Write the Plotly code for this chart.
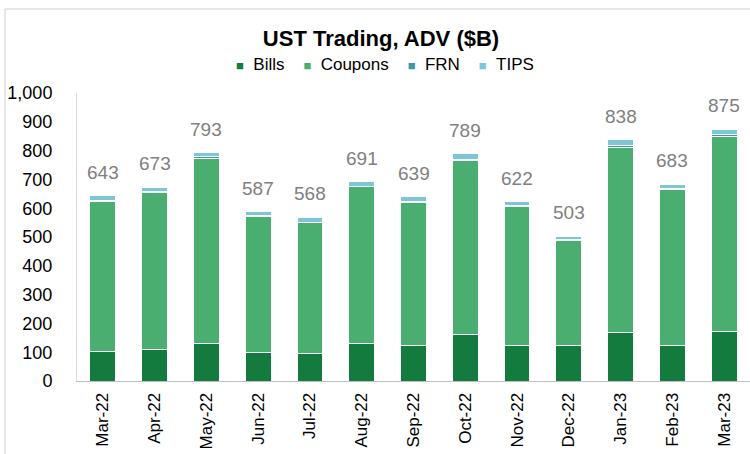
import plotly.graph_objects as go

months = ["Mar-22", "Apr-22", "May-22", "Jun-22", "Jul-22", "Aug-22", "Sep-22",
          "Oct-22", "Nov-22", "Dec-22", "Jan-23", "Feb-23", "Mar-23"]
bills = [104, 108, 131, 98, 94, 129, 123, 160, 125, 125, 167, 125, 171]
coupons = [520, 547, 643, 473, 455, 545, 498, 606, 482, 362, 643, 540, 679]
frn = [4, 3, 4, 3, 3, 3, 3, 4, 4, 4, 6, 5, 5]
tips = [15, 15, 15, 13, 16, 14, 15, 19, 11, 12, 22, 13, 20]
totals = [643, 673, 793, 587, 568, 691, 639, 789, 622, 503, 838, 683, 875]

W, H = 750, 454
ml, mr, mt, mb = 77, 0, 93, 73
pw, ph = W - ml - mr, H - mt - mb

font = "Liberation Sans, Arial, sans-serif"
series = [("Bills", bills, "#137B3E"), ("Coupons", coupons, "#4BAE71"),
          ("FRN", frn, "#3A97A9"), ("TIPS", tips, "#7EC6D3")]

fig = go.Figure()
for name, vals, col in series:
    fig.add_trace(go.Bar(x=months, y=vals, name=name, showlegend=False,
                         marker=dict(color=col, line=dict(color="white", width=1)),
                         hoverinfo="x+y+name"))

for m, t in zip(months, totals):
    fig.add_annotation(x=m, y=t, text=str(t), showarrow=False, yanchor="bottom",
                       yshift=11, font=dict(family=font, size=19, color="#808080"))


def px2x(px):
    return (px - ml) / pw


def py2y(py):
    return (H - mb - py) / ph


# legend drawn as text
parts = []
for name, _, col in series:
    parts.append(f"<span style='color:{col};font-size:13px'>■</span>&nbsp;&nbsp;{name}")
legend_text = "&nbsp;&nbsp;&nbsp;&nbsp;".join(parts)
fig.add_annotation(xref="paper", yref="paper", x=px2x(385), y=py2y(65),
                   xanchor="center", yanchor="middle", showarrow=False,
                   text=legend_text, font=dict(family=font, size=17, color="black"))

fig.add_shape(type="rect", xref="paper", yref="paper",
              x0=px2x(5), x1=px2x(760), y0=py2y(470), y1=py2y(9),
              line=dict(color="#d0d0d0", width=1), fillcolor="rgba(0,0,0,0)", layer="below")

fig.update_layout(
    width=W, height=H,
    margin=dict(l=ml, r=mr, t=mt, b=mb),
    barmode="stack", bargap=0.5,
    plot_bgcolor="white", paper_bgcolor="white",
    showlegend=False,
    title=dict(text="<b>UST Trading, ADV ($B)</b>", x=px2x(381), xanchor="center", xref="paper",
               y=1 - 38 / H, yanchor="middle", font=dict(family=font, size=22, color="black")),
    font=dict(family=font),
)
fig.update_xaxes(tickangle=-90, tickfont=dict(family=font, size=17, color="black"),
                 showline=True, linecolor="#bfbfbf", linewidth=1, ticks="", showgrid=False,
                 ticklabelstandoff=4)
fig.update_yaxes(range=[0, 1000], dtick=100, tickformat=",", showgrid=False,
                 tickfont=dict(family=font, size=18, color="black"),
                 showline=True, linecolor="#d9d9d9", linewidth=1, ticks="", zeroline=False,
                 ticklabelstandoff=20)

fig.write_html("out.html", config={"displayModeBar": False},
               post_script="document.body.style.margin='0';")
